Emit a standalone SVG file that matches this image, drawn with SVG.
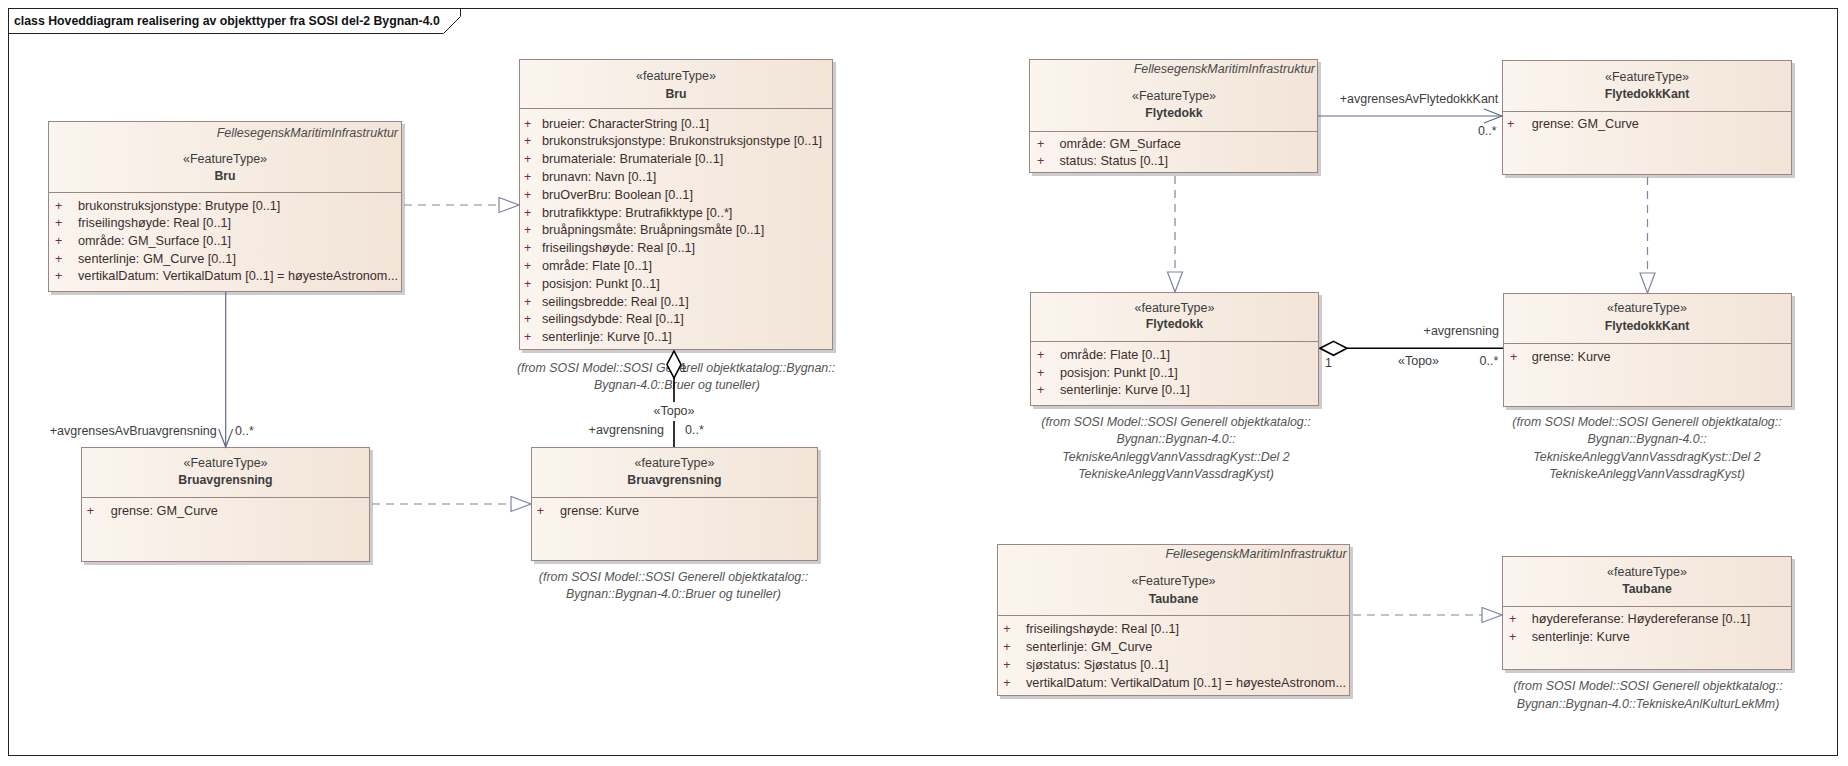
<svg xmlns="http://www.w3.org/2000/svg" width="1848" height="766" viewBox="0 0 1848 766">
<style>
text{font-family:"Liberation Sans",Arial,sans-serif;font-size:12.5px}
.box{fill:url(#nodeFill);stroke:#9c8585;stroke-width:1}
.sh{fill:#cccccc}
.dv{stroke:#9c8585;stroke-width:1}
.fe{font-style:italic;fill:#4a4a4a;text-anchor:end}
.st{fill:#3c3c3c;text-anchor:middle}
.nm{font-weight:bold;fill:#3c3c3c;text-anchor:middle;font-size:12.3px}
.pl{fill:#7b2a44}
.at{fill:#3b2d2d;font-size:12.7px}
.fr{font-style:italic;fill:#555555;text-anchor:middle;font-size:12.4px}
.lb{fill:#3c3c3c}
.lbe{fill:#3c3c3c;text-anchor:end}
.lbm{fill:#3c3c3c;text-anchor:middle}
.real{stroke:#7c86a2;stroke-width:1.2;fill:none;stroke-dasharray:8 6;marker-end:url(#tri)}
.assoc{stroke:#5d6985;stroke-width:1.2;fill:none;marker-end:url(#openArrow)}
.aggr{stroke:#000000;stroke-width:1.6;fill:none;marker-start:url(#diamond)}
</style>
<defs>
<linearGradient id="nodeFill" x1="0" y1="0" x2="1" y2="0">
<stop offset="0" stop-color="#fbf5ef"/>
<stop offset="1" stop-color="#f2e4d7"/>
</linearGradient>
<marker id="tri" markerUnits="userSpaceOnUse" markerWidth="24" markerHeight="20" refX="21" refY="8.5" orient="auto" viewBox="0 0 24 20">
<path d="M1,1 L21,8.5 L1,16 Z" fill="#ffffff" stroke="#7c86a2" stroke-width="1.2"/>
</marker>
<marker id="openArrow" markerUnits="userSpaceOnUse" markerWidth="22" markerHeight="18" refX="19" refY="8" orient="auto" viewBox="0 0 22 18">
<path d="M1,1 L19,8 L1,15" fill="none" stroke="#5d6985" stroke-width="1.2"/>
</marker>
<marker id="diamond" markerUnits="userSpaceOnUse" markerWidth="30" markerHeight="18" refX="1" refY="8" orient="auto" viewBox="0 0 30 18">
<path d="M1,8 L14.5,1 L28,8 L14.5,15 Z" fill="#ffffff" stroke="#000000" stroke-width="1.6"/>
</marker>
</defs>
<rect x="0" y="0" width="1848" height="766" fill="#ffffff"/>
<g id="frame">
<rect x="8.5" y="8.5" width="1829" height="747" fill="none" stroke="#222222" stroke-width="1"/>
<path d="M8.5,33.5 L443.5,33.5 L460.5,16.5 L460.5,8.5" fill="none" stroke="#222222" stroke-width="1"/>
<text x="14" y="25" style="font-weight:bold;font-size:12.3px;fill:#111111">class Hoveddiagram realisering av objekttyper fra SOSI del-2 Bygnan-4.0</text>
</g>
<g id="node-bru-felles">
<rect class="sh" x="51" y="124" width="354" height="171"/>
<rect class="box" x="48.5" y="121.5" width="353" height="170"/>
<line class="dv" x1="48.5" y1="192.5" x2="401.5" y2="192.5"/>
<text class="fe" x="398" y="137">FellesegenskMaritimInfrastruktur</text>
<text class="st" x="225" y="163">«FeatureType»</text>
<text class="nm" x="225" y="180">Bru</text>
<text class="pl" x="55" y="209.5">+</text><text class="at" x="78" y="209.5">brukonstruksjonstype: Brutype [0..1]</text>
<text class="pl" x="55" y="227.2">+</text><text class="at" x="78" y="227.2">friseilingshøyde: Real [0..1]</text>
<text class="pl" x="55" y="244.9">+</text><text class="at" x="78" y="244.9">område: GM_Surface [0..1]</text>
<text class="pl" x="55" y="262.6">+</text><text class="at" x="78" y="262.6">senterlinje: GM_Curve [0..1]</text>
<text class="pl" x="55" y="280.3">+</text><text class="at" x="78" y="280.3" textLength="320" lengthAdjust="spacingAndGlyphs">vertikalDatum: VertikalDatum [0..1] = høyesteAstronom...</text>
</g>
<g id="node-bru">
<rect class="sh" x="522" y="62" width="314" height="291"/>
<rect class="box" x="519.5" y="59.5" width="313" height="290"/>
<line class="dv" x1="519.5" y1="108.5" x2="832.5" y2="108.5"/>
<text class="st" x="676" y="80">«featureType»</text>
<text class="nm" x="676" y="97.5">Bru</text>
<text class="pl" x="524" y="127.5">+</text><text class="at" x="542" y="127.5">brueier: CharacterString [0..1]</text>
<text class="pl" x="524" y="145.3">+</text><text class="at" x="542" y="145.3">brukonstruksjonstype: Brukonstruksjonstype [0..1]</text>
<text class="pl" x="524" y="163.1">+</text><text class="at" x="542" y="163.1">brumateriale: Brumateriale [0..1]</text>
<text class="pl" x="524" y="180.9">+</text><text class="at" x="542" y="180.9">brunavn: Navn [0..1]</text>
<text class="pl" x="524" y="198.7">+</text><text class="at" x="542" y="198.7">bruOverBru: Boolean [0..1]</text>
<text class="pl" x="524" y="216.5">+</text><text class="at" x="542" y="216.5">brutrafikktype: Brutrafikktype [0..*]</text>
<text class="pl" x="524" y="234.3">+</text><text class="at" x="542" y="234.3">bruåpningsmåte: Bruåpningsmåte [0..1]</text>
<text class="pl" x="524" y="252.1">+</text><text class="at" x="542" y="252.1">friseilingshøyde: Real [0..1]</text>
<text class="pl" x="524" y="269.9">+</text><text class="at" x="542" y="269.9">område: Flate [0..1]</text>
<text class="pl" x="524" y="287.7">+</text><text class="at" x="542" y="287.7">posisjon: Punkt [0..1]</text>
<text class="pl" x="524" y="305.5">+</text><text class="at" x="542" y="305.5">seilingsbredde: Real [0..1]</text>
<text class="pl" x="524" y="323.3">+</text><text class="at" x="542" y="323.3">seilingsdybde: Real [0..1]</text>
<text class="pl" x="524" y="341.1">+</text><text class="at" x="542" y="341.1">senterlinje: Kurve [0..1]</text>
<text class="fr" x="676" y="371.7">(from SOSI Model::SOSI Generell objektkatalog::Bygnan::</text>
<text class="fr" x="677" y="389">Bygnan-4.0::Bruer og tuneller)</text>
</g>
<g id="node-bruavgrensning-felles">
<rect class="sh" x="84" y="450" width="289" height="115"/>
<rect class="box" x="81.5" y="447.5" width="288" height="114"/>
<line class="dv" x1="81.5" y1="497.5" x2="369.5" y2="497.5"/>
<text class="st" x="225.5" y="466.7">«FeatureType»</text>
<text class="nm" x="225.5" y="484">Bruavgrensning</text>
<text class="pl" x="86.7" y="515">+</text><text class="at" x="110.7" y="515">grense: GM_Curve</text>
</g>
<g id="node-bruavgrensning">
<rect class="sh" x="534" y="450" width="287" height="114"/>
<rect class="box" x="531.5" y="447.5" width="286" height="113"/>
<line class="dv" x1="531.5" y1="497.5" x2="817.5" y2="497.5"/>
<text class="st" x="674.5" y="466.7">«featureType»</text>
<text class="nm" x="674.5" y="484">Bruavgrensning</text>
<text class="pl" x="536.7" y="515">+</text><text class="at" x="560" y="515">grense: Kurve</text>
<text class="fr" x="673.5" y="580.7">(from SOSI Model::SOSI Generell objektkatalog::</text>
<text class="fr" x="673.5" y="598">Bygnan::Bygnan-4.0::Bruer og tuneller)</text>
</g>
<g id="node-flytedokk-felles">
<rect class="sh" x="1032" y="62" width="289" height="114"/>
<rect class="box" x="1029.5" y="59.5" width="288" height="113"/>
<line class="dv" x1="1029.5" y1="131.5" x2="1317.5" y2="131.5"/>
<text class="fe" x="1315" y="73.3">FellesegenskMaritimInfrastruktur</text>
<text class="st" x="1174" y="100">«FeatureType»</text>
<text class="nm" x="1174" y="116.7">Flytedokk</text>
<text class="pl" x="1037" y="147.7">+</text><text class="at" x="1059.5" y="147.7">område: GM_Surface</text>
<text class="pl" x="1037" y="165">+</text><text class="at" x="1059.5" y="165">status: Status [0..1]</text>
</g>
<g id="node-flytedokkkant-felles">
<rect class="sh" x="1505" y="63" width="290" height="115"/>
<rect class="box" x="1502.5" y="60.5" width="289" height="114"/>
<line class="dv" x1="1502.5" y1="111.5" x2="1791.5" y2="111.5"/>
<text class="st" x="1647" y="80.7">«FeatureType»</text>
<text class="nm" x="1647" y="97.7">FlytedokkKant</text>
<text class="pl" x="1507" y="128.3">+</text><text class="at" x="1531.7" y="128.3">grense: GM_Curve</text>
</g>
<g id="node-flytedokk">
<rect class="sh" x="1033" y="295" width="289" height="114"/>
<rect class="box" x="1030.5" y="292.5" width="288" height="113"/>
<line class="dv" x1="1030.5" y1="341.5" x2="1318.5" y2="341.5"/>
<text class="st" x="1174.5" y="311.7">«featureType»</text>
<text class="nm" x="1174.5" y="328.3">Flytedokk</text>
<text class="pl" x="1037" y="359.3">+</text><text class="at" x="1060" y="359.3">område: Flate [0..1]</text>
<text class="pl" x="1037" y="376.5">+</text><text class="at" x="1060" y="376.5">posisjon: Punkt [0..1]</text>
<text class="pl" x="1037" y="393.7">+</text><text class="at" x="1060" y="393.7">senterlinje: Kurve [0..1]</text>
<text class="fr" x="1176" y="426">(from SOSI Model::SOSI Generell objektkatalog::</text>
<text class="fr" x="1176" y="443.3">Bygnan::Bygnan-4.0::</text>
<text class="fr" x="1176" y="460.7">TekniskeAnleggVannVassdragKyst::Del 2</text>
<text class="fr" x="1176" y="478">TekniskeAnleggVannVassdragKyst)</text>
</g>
<g id="node-flytedokkkant">
<rect class="sh" x="1506" y="296" width="289" height="114"/>
<rect class="box" x="1503.5" y="293.5" width="288" height="113"/>
<line class="dv" x1="1503.5" y1="343.5" x2="1791.5" y2="343.5"/>
<text class="st" x="1647" y="312.3">«featureType»</text>
<text class="nm" x="1647" y="330">FlytedokkKant</text>
<text class="pl" x="1510" y="360.7">+</text><text class="at" x="1531.7" y="360.7">grense: Kurve</text>
<text class="fr" x="1647" y="426">(from SOSI Model::SOSI Generell objektkatalog::</text>
<text class="fr" x="1647" y="443.3">Bygnan::Bygnan-4.0::</text>
<text class="fr" x="1647" y="460.7">TekniskeAnleggVannVassdragKyst::Del 2</text>
<text class="fr" x="1647" y="478">TekniskeAnleggVannVassdragKyst)</text>
</g>
<g id="node-taubane-felles">
<rect class="sh" x="1000" y="547" width="353" height="152"/>
<rect class="box" x="997.5" y="544.5" width="352" height="151"/>
<line class="dv" x1="997.5" y1="615.5" x2="1349.5" y2="615.5"/>
<text class="fe" x="1346.7" y="558.3">FellesegenskMaritimInfrastruktur</text>
<text class="st" x="1173.5" y="585">«FeatureType»</text>
<text class="nm" x="1173.5" y="602.7">Taubane</text>
<text class="pl" x="1003.3" y="633.3">+</text><text class="at" x="1026" y="633.3">friseilingshøyde: Real [0..1]</text>
<text class="pl" x="1003.3" y="651.1">+</text><text class="at" x="1026" y="651.1">senterlinje: GM_Curve</text>
<text class="pl" x="1003.3" y="668.9">+</text><text class="at" x="1026" y="668.9">sjøstatus: Sjøstatus [0..1]</text>
<text class="pl" x="1003.3" y="686.7">+</text><text class="at" x="1026" y="686.7" textLength="320" lengthAdjust="spacingAndGlyphs">vertikalDatum: VertikalDatum [0..1] = høyesteAstronom...</text>
</g>
<g id="node-taubane">
<rect class="sh" x="1505" y="559" width="290" height="114"/>
<rect class="box" x="1502.5" y="556.5" width="289" height="113"/>
<line class="dv" x1="1502.5" y1="606.5" x2="1791.5" y2="606.5"/>
<text class="st" x="1647" y="575.7">«featureType»</text>
<text class="nm" x="1647" y="593.3">Taubane</text>
<text class="pl" x="1509" y="623.3">+</text><text class="at" x="1531.7" y="623.3">høydereferanse: Høydereferanse [0..1]</text>
<text class="pl" x="1509" y="641">+</text><text class="at" x="1531.7" y="641">senterlinje: Kurve</text>
<text class="fr" x="1648" y="690">(from SOSI Model::SOSI Generell objektkatalog::</text>
<text class="fr" x="1648" y="707.7">Bygnan::Bygnan-4.0::TekniskeAnlKulturLekMm)</text>
</g>
<g id="connectors">
<path class="real" d="M404,205 L519,205"/>
<path class="real" d="M372,504 L531,504"/>
<path class="real" d="M1353,615 L1502,615"/>
<path class="real" d="M1175,176 L1175,292"/>
<path class="real" d="M1647.5,177 L1647.5,293"/>
<path class="assoc" d="M225.7,292 L225.7,447"/>
<path class="assoc" d="M1318,116 L1502,116"/>
<path class="aggr" d="M674,351 L674,402 M674,421 L674,447"/>
<path class="aggr" d="M1320,348.3 L1503,348.3"/>
<text class="lbe" x="216.7" y="435">+avgrensesAvBruavgrensning</text>
<text class="lb" x="235" y="435">0..*</text>
<text class="lb" x="680" y="372">1</text>
<text class="lbm" x="674" y="415">«Topo»</text>
<text class="lbe" x="664" y="434">+avgrensning</text>
<text class="lb" x="685" y="434">0..*</text>
<text class="lbe" x="1498.3" y="103.3">+avgrensesAvFlytedokkKant</text>
<text class="lbe" x="1496.7" y="135">0..*</text>
<text class="lb" x="1325" y="367.3">1</text>
<text class="lbe" x="1499" y="335">+avgrensning</text>
<text class="lb" x="1398" y="365">«Topo»</text>
<text class="lbe" x="1498.3" y="365">0..*</text>
</g>
</svg>
